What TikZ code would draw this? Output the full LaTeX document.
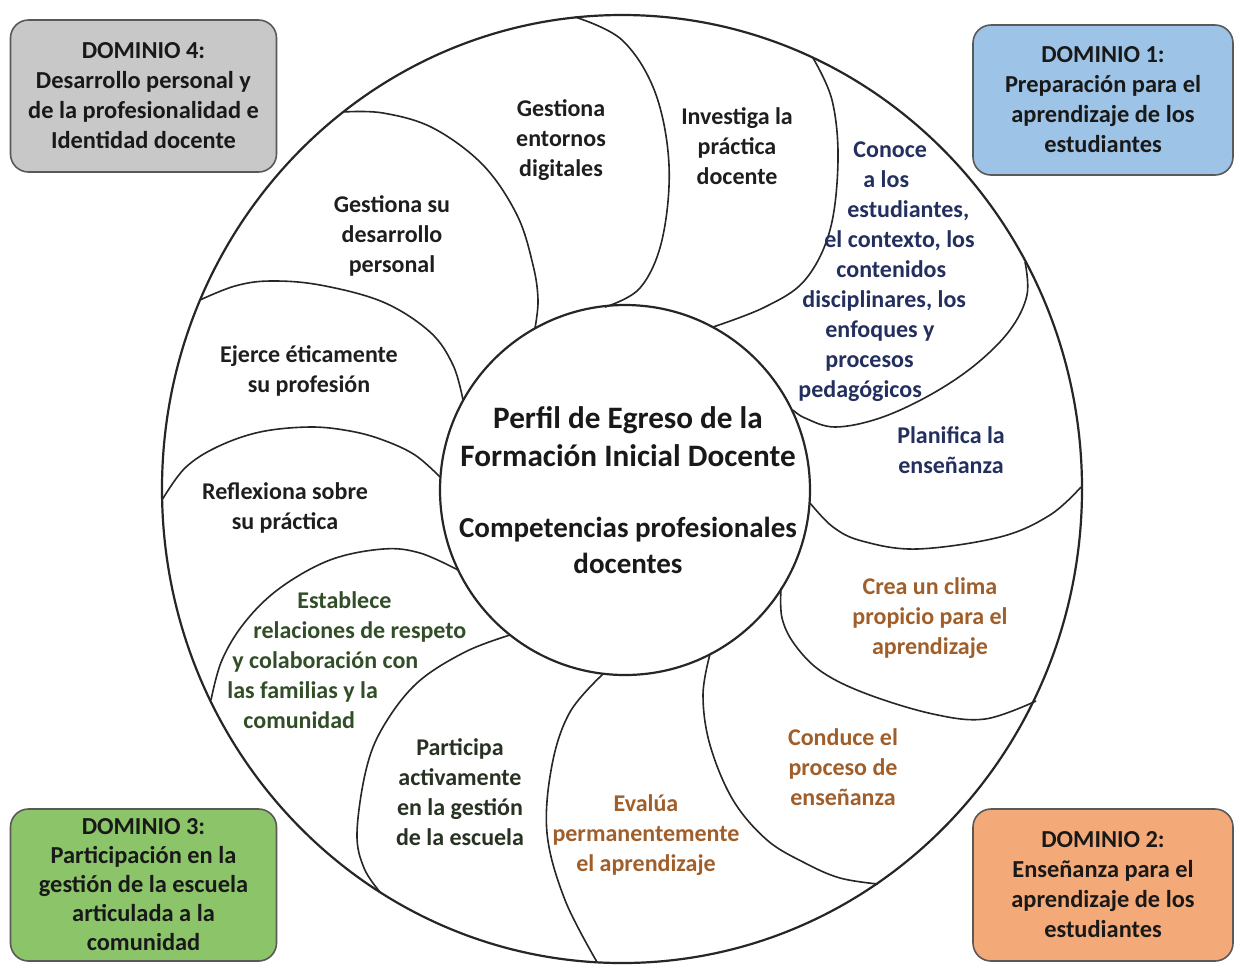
\documentclass[tikz,border=0pt]{standalone}
\usepackage{fontspec}
\setmainfont{Carlito}
\definecolor{dnavy}{RGB}{35,48,95}
\definecolor{dbrown}{RGB}{160,95,42}
\definecolor{dgreen}{RGB}{50,78,40}
\definecolor{dgreentwo}{RGB}{40,50,35}
\definecolor{dgray}{RGB}{30,30,30}
\definecolor{fillone}{RGB}{157,195,230}
\definecolor{filltwo}{RGB}{244,170,120}
\definecolor{fillthree}{RGB}{140,196,106}
\definecolor{fillfour}{RGB}{200,200,200}
\begin{document}
\begin{tikzpicture}[x=0.5pt,y=-0.5pt,
  ring/.style={line width=1.1pt, draw=black!85},
  divider/.style={line width=0.8pt, draw=black!85},
  comp/.style={font=\bfseries\fontsize{12}{15}\selectfont, align=center, inner sep=0pt},
  compl/.style={font=\bfseries\fontsize{12}{15}\selectfont, align=left, inner sep=0pt, anchor=west},
  dombox/.style={draw=black!65, line width=0.8pt, rounded corners=9pt,
    font=\bfseries\fontsize{12.2}{15}\selectfont, align=center, text=black!90,
    minimum width=133pt, minimum height=76pt, inner sep=0pt},
  title/.style={font=\bfseries\fontsize{15.6}{19}\selectfont, align=center, inner sep=0pt, text=black!90},
  subtitle/.style={font=\bfseries\fontsize{14.5}{18}\selectfont, align=center, inner sep=0pt, text=black!90}]
\useasboundingbox (0,0) rectangle (1235,965);
\fill[white] (0,0) rectangle (1235,965);
% outer ring and inner circle
\draw[ring] (622,489) ellipse [x radius=460, y radius=474];
\draw[ring] (625,490) circle [radius=185];
% dividers between the competencies
\draw[divider] plot[smooth, tension=0.6] coordinates {(575,17) (622,40) (655,92) (669,165) (662,240) (640,288) (605,307)};
\draw[divider] plot[smooth, tension=0.6] coordinates {(813,58) (832,100) (838,160) (830,230) (805,280) (765,307) (713,327)};
\draw[divider] plot[smooth, tension=0.6] coordinates {(1025,262) (1027,295) (1010,330) (975,365) (930,395) (880,418) (835,427) (805,418) (793,410)};
\draw[divider] plot[smooth, tension=0.6] coordinates {(1081,487) (1050,515) (1000,537) (917,549) (862,541) (833,527) (810,503)};
\draw[divider] plot[smooth, tension=0.6] coordinates {(781,588) (782,618) (795,645) (822,672) (867,694) (933,714) (985,719) (1036,701)};
\draw[divider] plot[smooth, tension=0.6] coordinates {(710,654) (703,695) (710,745) (733,800) (767,840) (805,863) (840,878) (878,884)};
\draw[divider] plot[smooth, tension=0.6] coordinates {(603,674) (570,712) (552,765) (547,833) (565,900) (597,962)};
\draw[divider] plot[smooth, tension=0.6] coordinates {(510,635) (465,652) (417,683) (383,727) (366,770) (357,833) (364,868) (380,892)};
\draw[divider] plot[smooth, tension=0.6] coordinates {(458,570) (420,553) (383,549) (330,560) (280,588) (245,622) (222,660) (211,700)};
\draw[divider] plot[smooth, tension=0.6] coordinates {(162,500) (185,468) (217,447) (260,432) (310,427) (350,431) (383,440) (415,455) (440,477)};
\draw[divider] plot[smooth, tension=0.6] coordinates {(200,300) (235,286) (270,281) (320,285) (383,302) (430,332) (453,365) (463,400)};
\draw[divider] plot[smooth, tension=0.6] coordinates {(343,112) (383,113) (433,128) (483,165) (517,215) (533,265) (538,300) (535,328)};
% centre
\node[title] (tit) at (628,437) {Perfil de Egreso de la\\Formación Inicial Docente};
\node[subtitle] (sub) at (628,545) {Competencias profesionales\\docentes};
% competencies
\node[comp, text=dgray] (ge) at (561,140) {Gestiona\\entornos\\digitales};
\node[comp, text=dgray] (inv) at (737,146) {Investiga la\\práctica\\docente};
\node[compl, text=dnavy] (con) at (798,272) {\hspace*{27.5pt}Conoce\\\hspace*{32.5pt}a los\\\hspace*{24.5pt}estudiantes,\\\hspace*{13pt}el contexto, los\\\hspace*{19pt}contenidos\\\hspace*{2pt}disciplinares, los\\\hspace*{13.5pt}enfoques y\\\hspace*{13.5pt}procesos\\pedagógicos};
\node[comp, text=dnavy] (plan) at (951,450) {Planifica la\\enseñanza};
\node[comp, text=dbrown] (crea) at (930,618) {Crea un clima\\propicio para el\\aprendizaje};
\node[comp, text=dbrown] (cond) at (843,767) {Conduce el\\proceso de\\enseñanza};
\node[comp, text=dbrown] (eval) at (646,835) {Evalúa\\permanentemente\\el aprendizaje};
\node[comp, text=dgreentwo] (part) at (460,792) {Participa\\activamente\\en la gestión\\de la escuela};
\node[compl, text=dgreen] (est) at (227,660) {\hspace*{35pt}Establece\\\hspace*{13pt}relaciones de respeto\\\hspace*{2.5pt}y colaboración con\\las familias y la\\\hspace*{8pt}comunidad};
\node[comp, text=dgray] (ref) at (285,508) {Reflexiona sobre\\su práctica};
\node[comp, text=dgray] (ejer) at (309,371) {Ejerce éticamente\\su profesión};
\node[comp, text=dgray] (gsd) at (392,236) {Gestiona su\\desarrollo\\personal};
% domain boxes
\node[dombox, fill=fillfour] (d4) at (143.5,96) {DOMINIO 4:\\Desarrollo personal y\\de la profesionalidad e\\Identidad docente};
\node[dombox, fill=fillone, minimum width=130pt, minimum height=75pt] (d1) at (1103,100) {DOMINIO 1:\\Preparación para el\\aprendizaje de los\\estudiantes};
\node[dombox, fill=fillthree, font=\bfseries\fontsize{12.2}{14.5}\selectfont] (d3) at (143.5,885) {DOMINIO 3:\\Participación en la\\gestión de la escuela\\articulada a la\\comunidad};
\node[dombox, fill=filltwo, minimum width=130pt] (d2) at (1103,885) {DOMINIO 2:\\Enseñanza para el\\aprendizaje de los\\estudiantes};
\end{tikzpicture}
\end{document}
